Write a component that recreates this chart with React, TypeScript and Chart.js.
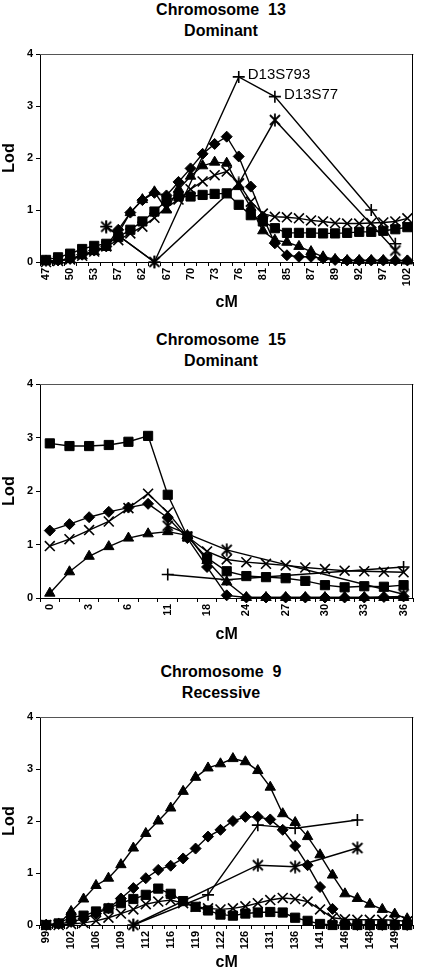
import React, { useEffect, useRef } from "react";
import { Chart, registerables } from "chart.js";

Chart.register(...registerables);

const FONT = "'Liberation Sans', Arial, Helvetica, sans-serif";

// ---------------- Chromosome 13 – Dominant ----------------
const cM13 = ["47", "50", "53", "57", "62", "67", "70", "73", "76", "81", "85", "87", "89", "92", "97", "102"];
const sq13 = [0.04, 0.09, 0.16, 0.25, 0.31, 0.35, 0.48, 0.62, 0.78, 0.97, 1.18, 1.26, 1.26, 1.29, 1.31, 1.32, 1.1, 0.9, 0.78, 0.65, 0.56, 0.56, 0.56, 0.55, 0.55, 0.56, 0.58, 0.58, 0.6, 0.63, 0.67];
const di13 = [0.02, 0.03, 0.06, 0.14, 0.22, 0.3, 0.62, 0.95, 1.19, 1.33, 1.28, 1.54, 1.8, 2.08, 2.27, 2.41, 2.03, 1.45, 0.87, 0.36, 0.13, 0.1, 0.1, 0.07, 0.04, 0.03, 0.03, 0.03, 0.03, 0.03, 0.03];
const tr13 = [0.02, 0.03, 0.05, 0.12, 0.2, 0.28, 0.55, 0.95, 1.2, 1.35, 1.0, 1.4, 1.65, 1.85, 1.92, 1.9, 1.45, 1.05, 0.6, 0.42, 0.38, 0.3, 0.2, 0.1, 0.05, 0.03, 0.03, 0.03, 0.03, 0.03, 0.02];
const x13 = [0.0, 0.02, 0.05, 0.12, 0.2, 0.3, 0.42, 0.55, 0.68, 0.85, 1.05, 1.2, 1.4, 1.55, 1.67, 1.74, 1.51, 1.16, 0.93, 0.87, 0.86, 0.84, 0.8, 0.78, 0.75, 0.74, 0.74, 0.75, 0.76, 0.78, 0.84];
const ast13Idx = [5, 9, 16, 19, 29];
const ast13Val = [0.68, 0, 1.51, 2.73, 0.22];
const plus13Idx = [5, 9, 16, 19, 27, 29];
const plus13Val = [0.68, 0, 3.56, 3.18, 1.0, 0.35];
const marker13Idx = [16, 19];
const marker13Names = ["D13S793", "D13S77"];

// ---------------- Chromosome 15 – Dominant ----------------
const cM15 = ["0", "3", "6", "11", "18", "24", "27", "30", "33", "36"];
const sq15 = [2.89, 2.84, 2.84, 2.86, 2.92, 3.03, 1.93, 1.15, 0.75, 0.5, 0.41, 0.39, 0.37, 0.32, 0.24, 0.2, 0.22, 0.21, 0.24];
const di15 = [1.26, 1.38, 1.51, 1.61, 1.69, 1.76, 1.5, 1.12, 0.58, 0.05, 0.01, 0.01, 0.01, 0.01, 0.01, 0.01, 0.01, 0.02, 0.03];
const tr15 = [0.09, 0.49, 0.78, 0.96, 1.12, 1.2, 1.24, 1.17, 0.7, 0.3, 0.01, 0.01, 0.01, 0.01, 0.01, 0.01, 0.01, 0.01, 0.01];
const x15 = [0.97, 1.1, 1.27, 1.43, 1.68, 1.95, 1.6, 1.15, 0.87, 0.72, 0.67, 0.64, 0.61, 0.57, 0.54, 0.51, 0.5, 0.49, 0.48];
const ast15Idx = [6, 9, 18];
const ast15Val = [1.35, 0.9, 0.07];
const plus15Idx = [6, 9, 18];
const plus15Val = [0.44, 0.34, 0.58];

// ---------------- Chromosome 9 – Recessive ----------------
const cM9 = ["99", "102", "106", "109", "112", "116", "119", "122", "126", "131", "136", "141", "146", "148", "149"];
const sq9 = [0.0, 0.03, 0.15, 0.18, 0.26, 0.32, 0.42, 0.5, 0.58, 0.7, 0.6, 0.46, 0.35, 0.28, 0.2, 0.18, 0.22, 0.24, 0.25, 0.24, 0.14, 0.08, 0.02, 0.0, 0.0, 0.0, 0.0, 0.0, 0.0, 0.0];
const di9 = [0.0, 0.02, 0.06, 0.12, 0.22, 0.32, 0.51, 0.71, 0.9, 1.06, 1.14, 1.28, 1.47, 1.7, 1.83, 2.0, 2.08, 2.08, 2.03, 1.83, 1.52, 1.15, 0.73, 0.31, 0.04, 0.0, 0.0, 0.0, 0.0, 0.0];
const tr9 = [0.0, 0.02, 0.26, 0.5, 0.76, 0.9, 1.16, 1.48, 1.76, 2.0, 2.25, 2.57, 2.84, 3.02, 3.1, 3.2, 3.14, 2.97, 2.65, 2.14, 1.97, 1.7, 1.35, 0.96, 0.6, 0.51, 0.4, 0.3, 0.21, 0.12];
const x9 = [0.0, 0.0, 0.02, 0.04, 0.08, 0.14, 0.22, 0.3, 0.4, 0.45, 0.48, 0.42, 0.35, 0.32, 0.3, 0.32, 0.36, 0.42, 0.48, 0.52, 0.5, 0.45, 0.3, 0.14, 0.11, 0.1, 0.1, 0.1, 0.09, 0.07];
const ast9Idx = [7, 17, 20, 25];
const ast9Val = [0.0, 1.15, 1.12, 1.48];
const plus9Idx = [7, 13, 17, 20, 25];
const plus9Val = [0.0, 0.58, 1.92, 1.86, 2.02];

// ---------------------------------------------------------
function sparse(n: number, idx: number[], val: number[]) {
  const a: (number | null)[] = new Array(n).fill(null);
  idx.forEach((k, j) => (a[k] = val[j]));
  return a;
}

let asteriskImg: HTMLCanvasElement | null = null;
function asterisk() {
  if (asteriskImg) return asteriskImg;
  const s = 14;
  const c = document.createElement("canvas");
  c.width = s;
  c.height = s;
  const g = c.getContext("2d")!;
  g.strokeStyle = "#000";
  g.lineWidth = 1.8;
  const m = s / 2;
  const d = 5;
  g.beginPath();
  g.moveTo(m - d, m - d);
  g.lineTo(m + d, m + d);
  g.moveTo(m + d, m - d);
  g.lineTo(m - d, m + d);
  g.moveTo(m, 0.5);
  g.lineTo(m, s - 0.5);
  g.stroke();
  asteriskImg = c;
  return c;
}

function ds(data: (number | null)[], style: any, radius: number, filled: boolean) {
  return {
    data,
    pointStyle: style,
    pointRadius: radius,
    pointHoverRadius: radius,
    borderColor: "#000",
    backgroundColor: "#000",
    pointBackgroundColor: "#000",
    pointBorderColor: "#000",
    borderWidth: 1.4,
    pointBorderWidth: filled ? 1 : 1.6,
    spanGaps: true,
    clip: false as any,
    tension: 0,
    fill: false,
  };
}

type Spec = {
  line1: string;
  line2: string;
  titleTop: number;
  top: number;
  height: number;
  padTop: number;
  xAxisH: number;
  cmPad: number;
  ticks: string[];
  sq: number[];
  di: number[];
  tr: number[];
  xx: number[];
  astIdx: number[];
  astVal: number[];
  plusIdx: number[];
  plusVal: number[];
  names?: string[];
  namesIdx?: number[];
};

const SPECS: Spec[] = [
  {
    line1: "Chromosome  13", line2: "Dominant", titleTop: -1,
    top: 40, height: 275, padTop: 14, xAxisH: 53, cmPad: 3,
    ticks: cM13, sq: sq13, di: di13, tr: tr13, xx: x13,
    astIdx: ast13Idx, astVal: ast13Val, plusIdx: plus13Idx, plusVal: plus13Val,
    names: marker13Names, namesIdx: marker13Idx,
  },
  {
    line1: "Chromosome  15", line2: "Dominant", titleTop: 329,
    top: 370, height: 275, padTop: 14, xAxisH: 47, cmPad: 1,
    ticks: cM15, sq: sq15, di: di15, tr: tr15, xx: x15,
    astIdx: ast15Idx, astVal: ast15Val, plusIdx: plus15Idx, plusVal: plus15Val,
  },
  {
    line1: "Chromosome  9", line2: "Recessive", titleTop: 661,
    top: 700, height: 272, padTop: 17, xAxisH: 47, cmPad: 0,
    ticks: cM9, sq: sq9, di: di9, tr: tr9, xx: x9,
    astIdx: ast9Idx, astVal: ast9Val, plusIdx: plus9Idx, plusVal: plus9Val,
  },
];

const framePlugin = {
  id: "frame",
  beforeDatasetsDraw(chart: any) {
    const { ctx, chartArea } = chart;
    const { left, top, right, bottom } = chartArea;
    ctx.save();
    ctx.lineWidth = 1;
    ctx.strokeStyle = "#555";
    ctx.beginPath();
    ctx.moveTo(left, Math.round(top) + 0.5);
    ctx.lineTo(right, Math.round(top) + 0.5);
    ctx.stroke();
    ctx.strokeStyle = "#000";
    ctx.beginPath();
    ctx.moveTo(Math.round(right) - 0.5, top);
    ctx.lineTo(Math.round(right) - 0.5, bottom);
    ctx.stroke();
    ctx.restore();
  },
};

const namePlugin = {
  id: "nameTags",
  afterDatasetsDraw(chart: any, _a: any, opts: any) {
    if (!opts || !opts.names) return;
    const meta = chart.getDatasetMeta(opts.dataset);
    const { ctx } = chart;
    ctx.save();
    ctx.font = `15px ${FONT}`;
    ctx.fillStyle = "#000";
    ctx.textAlign = "left";
    ctx.textBaseline = "middle";
    opts.idx.forEach((k: number, j: number) => {
      const el = meta.data[k];
      if (el) ctx.fillText(opts.names[j], el.x + 9, el.y - 2);
    });
    ctx.restore();
  },
};

function buildConfig(s: Spec): any {
  const n = s.sq.length;
  const labels = Array.from({ length: n }, (_, i) => (i % 2 === 0 ? s.ticks[i / 2] ?? "" : ""));
  const datasets = [
    ds(s.sq, "rect", 6.5, true),
    ds(s.di, "rectRot", 5.5, true),
    ds(s.tr, "triangle", 6, true),
    ds(s.xx, "crossRot", 7, false),
    ds(sparse(n, s.astIdx, s.astVal), asterisk(), 6, false),
    ds(sparse(n, s.plusIdx, s.plusVal), "cross", 6, false),
  ];
  const tickFont = { family: FONT, size: 11, weight: "bold" as const };
  const titleFont = { family: FONT, size: 16, weight: "bold" as const };
  return {
    type: "line",
    data: { labels, datasets },
    plugins: [framePlugin, namePlugin],
    options: {
      responsive: false,
      animation: false,
      events: [],
      layout: { padding: { top: s.padTop, right: 3, left: 0, bottom: 0 } },
      plugins: {
        legend: { display: false },
        tooltip: { enabled: false },
        title: { display: false },
        nameTags: s.names ? { names: s.names, idx: s.namesIdx, dataset: 5 } : {},
      },
      scales: {
        x: {
          type: "category",
          offset: true,
          grid: {
            display: true,
            drawOnChartArea: false,
            drawTicks: true,
            tickLength: 4,
            offset: true,
            color: "#000",
            lineWidth: 1,
          },
          border: { display: true, color: "#000", width: 1 },
          ticks: {
            autoSkip: false,
            minRotation: 90,
            maxRotation: 90,
            padding: 2,
            crossAlign: "center",
            color: "#000",
            font: tickFont,
          },
          title: {
            display: true,
            text: "cM",
            color: "#000",
            font: titleFont,
            padding: { top: 0, bottom: s.cmPad },
          },
          afterFit: (sc: any) => {
            sc.height = s.xAxisH;
            sc.paddingLeft = 0;
            sc.paddingRight = 0;
          },
        },
        y: {
          min: 0,
          max: 4,
          ticks: { stepSize: 1, padding: 3, color: "#000", font: tickFont },
          grid: { drawOnChartArea: false, drawTicks: true, tickLength: 4, color: "#000" },
          border: { display: true, color: "#000", width: 1 },
          title: {
            display: true,
            text: "Lod",
            color: "#000",
            font: titleFont,
            padding: { top: 0, bottom: 0 },
          },
          afterFit: (sc: any) => {
            sc.width = 40;
            sc.paddingTop = 0;
            sc.paddingBottom = 0;
          },
        },
      },
    },
  };
}

function Panel({ spec }: { spec: Spec }) {
  const ref = useRef<HTMLCanvasElement>(null);
  useEffect(() => {
    if (!ref.current) return;
    const chart = new Chart(ref.current, buildConfig(spec));
    return () => chart.destroy();
  }, [spec]);
  return (
    <>
      <div
        style={{
          position: "absolute",
          left: 10,
          top: spec.titleTop,
          width: 422,
          textAlign: "center",
          fontFamily: FONT,
          fontWeight: "bold",
          fontSize: 16,
          lineHeight: "21px",
          color: "#000",
          whiteSpace: "pre",
        }}
      >
        {spec.line1}
        {"\n"}
        {spec.line2}
      </div>
      <canvas
        ref={ref}
        width={422}
        height={spec.height}
        style={{ position: "absolute", left: 0, top: spec.top, width: 422, height: spec.height }}
      />
    </>
  );
}

export default function App() {
  return (
    <div style={{ position: "absolute", left: 0, top: 0, width: 422, height: 972, background: "#fff", overflow: "hidden" }}>
      {SPECS.map((s, k) => (
        <Panel key={k} spec={s} />
      ))}
    </div>
  );
}
